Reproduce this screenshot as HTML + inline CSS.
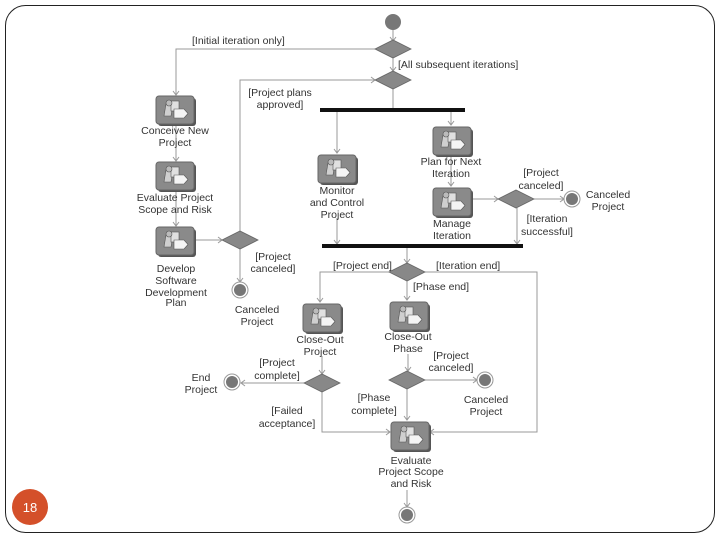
<!DOCTYPE html>
<html><head><meta charset="utf-8"><style>
html,body{margin:0;padding:0;background:#fff;}
svg{display:block;}
text{font-family:"Liberation Sans",sans-serif;font-size:10.5px;fill:#333;}
</style></head><body>
<svg width="720" height="540" viewBox="0 0 720 540">
<defs>
<g id="ic">
<rect x="2" y="2" width="38" height="28" rx="3" fill="#555"/>
<rect x="0" y="0" width="38" height="28" rx="3" fill="#8a8a8a" stroke="#666" stroke-width="1"/>
<polygon points="10,8 17,8 15,20 8,20" fill="#cfcfcf" stroke="#555" stroke-width="0.6"/>
<rect x="15" y="5" width="8" height="10" fill="#e0e0e0" stroke="#555" stroke-width="0.6"/>
<circle cx="13" cy="7" r="3" fill="#bbb" stroke="#555" stroke-width="0.6"/>
<polygon points="18,13 28,13 32,17.5 28,22 18,22" fill="#f4f4f4" stroke="#555" stroke-width="0.6"/>
</g>
<g id="dm"><polygon points="-18,0 0,-9 18,0 0,9" fill="#888" stroke="#666" stroke-width="0.8"/></g>
<g id="fin"><circle r="8" fill="#fff" stroke="#999" stroke-width="1"/><circle r="6" fill="#777"/></g>
</defs>
<rect x="5.5" y="5.5" width="709" height="527" rx="20" fill="none" stroke="#222" stroke-width="1"/>
<circle cx="30" cy="507" r="18" fill="#d4502a"/>
<text x="30" y="512" text-anchor="middle" style="font-size:13px;fill:#fff">18</text>

<g stroke="#999" stroke-width="1" fill="none">
<path d="M393 30V40"/>
<path d="M375 49H176V95"/>
<path d="M393 58V71"/>
<path d="M240 231V80H375"/>
<path d="M393 89V108"/>
<path d="M337 112V153"/>
<path d="M451 112V125"/>
<path d="M451 156V186"/>
<path d="M337 218V244"/>
<path d="M472 199H498"/>
<path d="M534 199H564"/>
<path d="M517 208V244"/>
<path d="M176 126V161"/>
<path d="M176 191V226"/>
<path d="M196 240H222"/>
<path d="M240 249V282"/>
<path d="M407 248V263"/>
<path d="M389 272H320V302"/>
<path d="M425 272H537V432H430"/>
<path d="M407 281V300"/>
<path d="M322 356V374"/>
<path d="M304 383H241"/>
<path d="M322 392V432H390"/>
<path d="M408 354V371"/>
<path d="M425 380H477"/>
<path d="M407 389V420"/>
<path d="M407 490V507"/>
</g>
<g stroke="#999" stroke-width="1" fill="none">
<path d="M390 37L393 41L396 37"/><path d="M390 67L393 71L396 67"/>
<path d="M371 77L375 80L371 83"/><path d="M173 91L176 95L179 91"/>
<path d="M173 157L176 161L179 157"/><path d="M173 222L176 226L179 222"/>
<path d="M218 237L222 240L218 243"/><path d="M237 278L240 282L243 278"/>
<path d="M334 149L337 153L340 149"/><path d="M448 121L451 125L454 121"/>
<path d="M448 182L451 186L454 182"/><path d="M494 196L498 199L494 202"/>
<path d="M560 196L564 199L560 202"/><path d="M514 240L517 244L520 240"/>
<path d="M334 240L337 244L340 240"/><path d="M404 259L407 263L410 259"/>
<path d="M317 298L320 302L323 298"/><path d="M404 296L407 300L410 296"/>
<path d="M319 370L322 374L325 370"/><path d="M245 380L241 383L245 386"/>
<path d="M405 367L408 371L411 367"/><path d="M473 377L477 380L473 383"/>
<path d="M404 416L407 420L410 416"/><path d="M386 429L390 432L386 435"/>
<path d="M434 429L430 432L434 435"/><path d="M404 503L407 507L410 503"/>
</g>

<circle cx="393" cy="22" r="8" fill="#777"/>
<use href="#dm" x="393" y="49"/>
<use href="#dm" x="393" y="80"/>
<use href="#dm" x="240" y="240"/>
<use href="#dm" x="516" y="199"/>
<use href="#dm" x="407" y="272"/>
<use href="#dm" x="322" y="383"/>
<use href="#dm" x="407" y="380"/>
<rect x="320" y="108" width="145" height="4" fill="#111"/>
<rect x="322" y="244" width="201" height="4" fill="#111"/>

<use href="#ic" x="156" y="96"/>
<use href="#ic" x="156" y="162"/>
<use href="#ic" x="156" y="227"/>
<use href="#ic" x="318" y="155"/>
<use href="#ic" x="433" y="127"/>
<use href="#ic" x="433" y="188"/>
<use href="#ic" x="303" y="304"/>
<use href="#ic" x="390" y="302"/>
<use href="#ic" x="391" y="422"/>

<use href="#fin" x="240" y="290"/>
<use href="#fin" x="572" y="199"/>
<use href="#fin" x="232" y="382"/>
<use href="#fin" x="485" y="380"/>
<use href="#fin" x="407" y="515"/>

<g text-anchor="middle">
<text x="175" y="134">Conceive New</text><text x="175" y="146">Project</text>
<text x="175" y="201">Evaluate Project</text><text x="175" y="213">Scope and Risk</text>
<text x="176" y="272">Develop</text><text x="176" y="284">Software</text><text x="176" y="296">Development</text><text x="176" y="306">Plan</text>
<text x="257" y="313">Canceled</text><text x="257" y="325">Project</text>
<text x="337" y="194">Monitor</text><text x="337" y="206">and Control</text><text x="337" y="218">Project</text>
<text x="451" y="165">Plan for Next</text><text x="451" y="177">Iteration</text>
<text x="452" y="227">Manage</text><text x="452" y="239">Iteration</text>
<text x="608" y="198">Canceled</text><text x="608" y="210">Project</text>
<text x="320" y="343">Close-Out</text><text x="320" y="355">Project</text>
<text x="408" y="340">Close-Out</text><text x="408" y="352">Phase</text>
<text x="201" y="381">End</text><text x="201" y="393">Project</text>
<text x="486" y="403">Canceled</text><text x="486" y="415">Project</text>
<text x="411" y="464">Evaluate</text><text x="411" y="475">Project Scope</text><text x="411" y="487">and Risk</text>
<text x="280" y="96">[Project plans</text><text x="280" y="108">approved]</text>
<text x="273" y="260">[Project</text><text x="273" y="272">canceled]</text>
<text x="541" y="176">[Project</text><text x="541" y="189">canceled]</text>
<text x="547" y="222">[Iteration</text><text x="547" y="235">successful]</text>
<text x="277" y="366">[Project</text><text x="277" y="379">complete]</text>
<text x="287" y="414">[Failed</text><text x="287" y="427">acceptance]</text>
<text x="451" y="359">[Project</text><text x="451" y="371">canceled]</text>
<text x="374" y="401">[Phase</text><text x="374" y="414">complete]</text>
</g>
<text x="192" y="44">[Initial iteration only]</text>
<text x="398" y="68">[All subsequent iterations]</text>
<text x="333" y="269">[Project end]</text>
<text x="436" y="269">[Iteration end]</text>
<text x="413" y="290">[Phase end]</text>
</svg>
</body></html>
